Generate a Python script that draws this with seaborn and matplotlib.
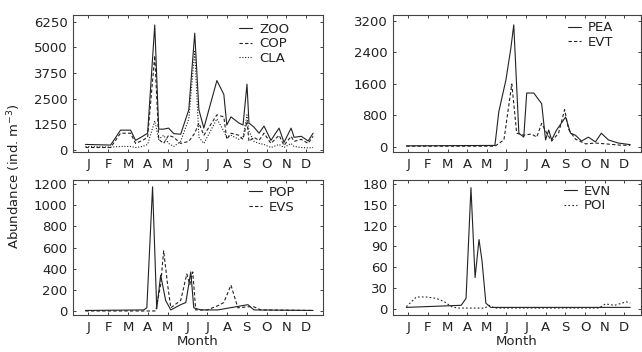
import numpy as np
import pandas as pd
import matplotlib
matplotlib.use("Agg")
import matplotlib.pyplot as plt
import seaborn as sns

# ---------------- data (month position: label i sits at i + 0.5) ----------------
months = ["J", "F", "M", "A", "M", "J", "J", "A", "S", "O", "N", "D"]

t_zoo = [0.35, 1.62, 2.12, 2.63, 2.88, 3.24, 3.49, 3.85, 4.05, 4.30, 4.55, 4.81, 5.16,
         5.57, 5.87, 6.08, 6.33, 6.99, 7.34, 7.49, 7.70, 8.10, 8.31, 8.51, 8.61, 8.86,
         9.12, 9.37, 9.72, 10.13, 10.38, 10.74, 10.89, 11.25, 11.60, 11.85]
zoo = [250, 220, 950, 950, 450, 650, 800, 6100, 1000, 1000, 1050, 780, 750,
       1950, 5700, 1950, 1050, 3380, 2700, 1200, 1600, 1300, 1200, 3200, 1300, 1100,
       800, 1150, 450, 1050, 350, 1050, 600, 650, 420, 800]
cop = [100, 100, 800, 800, 300, 450, 600, 4600, 500, 300, 700, 600, 300,
       400, 800, 1300, 700, 1700, 1600, 500, 800, 700, 500, 1400, 400, 600,
       450, 800, 300, 700, 200, 650, 400, 500, 300, 650]
cla = [150, 120, 150, 150, 100, 150, 250, 1400, 500, 700, 300, 150, 400,
       1500, 4800, 600, 300, 1500, 900, 600, 700, 500, 600, 1700, 900, 400,
       300, 250, 100, 250, 100, 300, 150, 100, 80, 100]

t_pea = [0.40, 4.91, 5.11, 5.47, 5.72, 5.87, 6.13, 6.38, 6.53, 6.89, 7.14, 7.29, 7.49,
         7.65, 7.80, 8.05, 8.51, 8.76, 9.01, 9.32, 9.67, 10.03, 10.33, 10.69, 11.19, 11.80]
pea = [30, 40, 900, 1700, 2500, 3100, 350, 250, 1370, 1370, 1200, 1100, 180,
       430, 180, 430, 760, 350, 300, 150, 250, 130, 350, 180, 100, 60]
t_evt = [0.40, 4.91, 5.37, 5.77, 6.02, 6.38, 6.78, 7.04, 7.29, 7.55, 7.80, 8.15, 8.46,
         8.66, 9.01, 9.52, 10.03, 10.54, 11.19, 11.80]
evt = [20, 20, 180, 1600, 350, 300, 330, 250, 600, 350, 150, 350, 950,
       450, 200, 80, 100, 80, 50, 40]

t_pop = [0.35, 3.29, 3.45, 3.74, 3.95, 4.15, 4.40, 4.66, 5.16, 5.42, 5.67, 5.82, 6.18,
         7.04, 8.56, 8.86, 11.85]
pop = [5, 10, 30, 1175, 20, 340, 100, 10, 60, 80, 370, 30, 10,
       10, 60, 10, 5]
t_evs = [0.35, 3.90, 4.15, 4.30, 4.50, 4.66, 5.16, 5.47, 5.62, 5.77, 5.92, 6.50, 7.04,
         7.34, 7.70, 8.05, 8.56, 8.86, 9.20, 11.85]
evs = [0, 0, 250, 570, 250, 30, 100, 350, 250, 370, 10, 10, 50,
       80, 245, 30, 40, 40, 10, 5]

t_evn = [0.40, 3.19, 3.44, 3.69, 3.90, 4.10, 4.25, 4.45, 4.70, 11.80]
evn = [2, 5, 15, 175, 45, 100, 70, 8, 2, 2]
t_poi = [0.40, 0.91, 1.42, 1.93, 2.34, 2.70, 3.00, 4.40, 4.60, 4.90, 10.20, 10.54, 11.00,
         11.60, 11.80]
poi = [3, 17, 17, 15, 10, 3, 1, 1, 5, 1, 1, 7, 5, 10, 8]

panels = [
    dict(series=[("ZOO", t_zoo, zoo, "-"), ("COP", t_zoo, cop, (0, (3, 2))),
                 ("CLA", t_zoo, cla, (0, (1, 1.5)))],
         yticks=[0, 1250, 2500, 3750, 5000, 6250], ylim=(-120, 6590),
         leg=(0.665, 0.945)),
    dict(series=[("PEA", t_pea, pea, "-"), ("EVT", t_evt, evt, (0, (3, 2)))],
         yticks=[0, 800, 1600, 2400, 3200], ylim=(-127, 3350),
         leg=(0.705, 0.955)),
    dict(series=[("POP", t_pop, pop, "-"), ("EVS", t_evs, evs, (0, (3, 2)))],
         yticks=[0, 200, 400, 600, 800, 1000, 1200], ylim=(-38, 1240),
         leg=(0.705, 0.955)),
    dict(series=[("EVN", t_evn, evn, "-"), ("POI", t_poi, poi, (0, (1.5, 2)))],
         yticks=[0, 30, 60, 90, 120, 150, 180], ylim=(-9, 186),
         leg=(0.69, 0.965)),
]

# ---------------- figure ----------------
sns.set_theme(style="ticks")
plt.rcParams["font.family"] = ["DejaVu Sans"]
plt.rcParams["axes.linewidth"] = 0.8

fig = plt.figure(figsize=(6.42, 3.52), dpi=100)
boxes = [
    (73 / 642, 1 - 152 / 352, 250 / 642, 137 / 352),
    (393 / 642, 1 - 152 / 352, 248 / 642, 137 / 352),
    (73 / 642, 1 - 315 / 352, 250 / 642, 135 / 352),
    (393 / 642, 1 - 315 / 352, 248 / 642, 135 / 352),
]

fs = 9.5
for k, (p, box) in enumerate(zip(panels, boxes)):
    ax = fig.add_axes(box)
    for name, tx, vals, ls in p["series"]:
        df = pd.DataFrame({"t": tx, "v": vals})
        sns.lineplot(data=df, x="t", y="v", ax=ax, color="#222222", lw=0.8,
                     linestyle=ls, label=name, estimator=None, sort=False)
    ax.set_xlim(-0.28, 12.35)
    ax.set_ylim(*p["ylim"])
    ax.set_yticks(p["yticks"])
    ax.set_xticks(np.arange(12) + 0.5)
    ax.set_xticklabels(months)
    ax.tick_params(axis="both", direction="in", labelsize=fs, length=2.5,
                   width=0.6, pad=4, top=True, right=True, colors="#222222")
    for sp in ax.spines.values():
        sp.set_color("#444444")
        sp.set_linewidth(0.8)
    ax.set_ylabel("")
    if k >= 2:
        ax.set_xlabel("Month", fontsize=fs, labelpad=1, color="#222222")
    else:
        ax.set_xlabel("")
    leg = ax.legend(loc="upper left", bbox_to_anchor=p["leg"], frameon=False,
                    fontsize=fs, handlelength=1.0, handletextpad=0.5,
                    labelspacing=0.12, borderaxespad=0, borderpad=0)
    for txt in leg.get_texts():
        txt.set_color("#222222")

fig.text(0.022, 0.50, "Abundance (ind. m$^{-3}$)", rotation=90, va="center",
         ha="center", fontsize=fs, color="#222222")

fig.savefig("out.png", dpi=100, facecolor="white")
